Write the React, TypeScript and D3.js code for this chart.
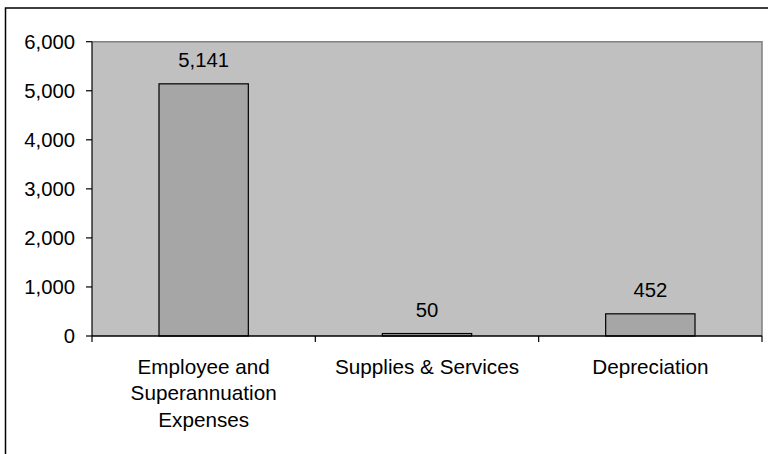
import React from "react";
import * as d3 from "d3";

const categories: string[][] = [
  ["Employee and", "Superannuation", "Expenses"],
  ["Supplies & Services"],
  ["Depreciation"],
];
const values: number[] = [5141, 50, 452];
const yTicks: number[] = [0, 1000, 2000, 3000, 4000, 5000, 6000];

const W = 768;
const H = 454;
const plot = { left: 92, right: 762, top: 41.7, bottom: 336 };
const FONT = "'Liberation Sans', Arial, sans-serif";
const fmt = d3.format(",");

export default function App() {
  const x = d3
    .scaleBand<number>()
    .domain(values.map((_, i) => i))
    .range([plot.left, plot.right])
    .paddingInner(0.6)
    .paddingOuter(0.3);
  const band = d3
    .scaleBand<number>()
    .domain(values.map((_, i) => i))
    .range([plot.left, plot.right]);
  const y = d3.scaleLinear().domain([0, 6000]).range([plot.bottom, plot.top]);

  const catEdges = values.map((_, i) => band(i)!).concat([plot.right]);

  return (
    <svg
      width={W}
      height={H}
      style={{ position: "absolute", left: 0, top: 0, background: "#fff" }}
      fontFamily={FONT}
    >
      {/* chart frame */}
      <rect x={5.5} y={8} width={900} height={600} fill="#fff" stroke="#000" strokeWidth={1.5} />
      {/* plot area */}
      <rect
        x={plot.left}
        y={plot.top}
        width={plot.right - plot.left}
        height={plot.bottom - plot.top}
        fill="#C0C0C0"
      />
      <path
        d={`M${plot.left},${plot.top}H${plot.right}V${plot.bottom}`}
        fill="none"
        stroke="#808080"
        strokeWidth={1.5}
      />
      {/* bars */}
      {values.map((v, i) => (
        <rect
          key={i}
          x={x(i)!}
          y={y(v)}
          width={x.bandwidth()}
          height={y(0) - y(v)}
          fill="#A6A6A6"
          stroke="#000"
          strokeWidth={1.2}
        />
      ))}
      {/* value labels */}
      {values.map((v, i) => (
        <text
          key={i}
          x={x(i)! + x.bandwidth() / 2}
          y={y(v) - 16.5}
          textAnchor="middle"
          fontSize={20.3}
          fill="#000"
        >
          {fmt(v)}
        </text>
      ))}
      {/* y axis */}
      <line x1={plot.left} x2={plot.left} y1={plot.top} y2={plot.bottom} stroke="#000" strokeWidth={1.2} />
      {yTicks.map((t) => (
        <g key={t}>
          <line x1={plot.left - 6} x2={plot.left} y1={y(t)} y2={y(t)} stroke="#000" strokeWidth={1.2} />
          <text
            x={75}
            y={y(t)}
            dy="0.36em"
            textAnchor="end"
            fontSize={20.3}
            fill="#000"
          >
            {fmt(t)}
          </text>
        </g>
      ))}
      {/* x axis */}
      <line x1={plot.left} x2={plot.right} y1={plot.bottom} y2={plot.bottom} stroke="#000" strokeWidth={1.5} />
      {catEdges.map((e, i) => (
        <line key={i} x1={e} x2={e} y1={plot.bottom} y2={plot.bottom + 6} stroke="#000" strokeWidth={1.2} />
      ))}
      {categories.map((lines, i) => (
        <text
          key={i}
          x={band(i)! + band.bandwidth() / 2}
          y={373.5}
          textAnchor="middle"
          fontSize={20.7}
          fill="#000"
        >
          {lines.map((l, j) => (
            <tspan key={j} x={band(i)! + band.bandwidth() / 2} dy={j === 0 ? 0 : 26.5}>
              {l}
            </tspan>
          ))}
        </text>
      ))}
    </svg>
  );
}
